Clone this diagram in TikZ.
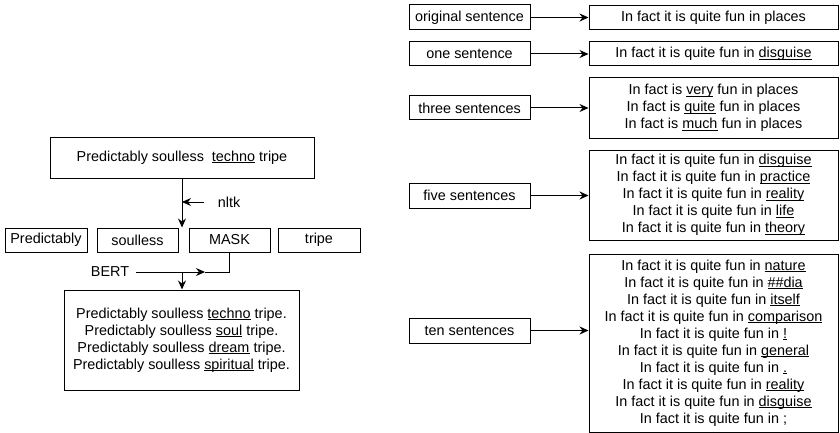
\documentclass[tikz,border=0pt]{standalone}
\usepackage{fontspec}
\setmainfont{Liberation Sans}
\usetikzlibrary{arrows.meta,positioning}
\newcommand\ulw[1]{\underline{\smash{#1}}}

\begin{document}
\begin{tikzpicture}[x=1pt,y=-1pt,line width=1pt,
        link/.style={-{Stealth[length=9pt,width=8pt,inset=3pt]}}]%
        \useasboundingbox (0,0) rectangle (840,433);
        %\draw[step=20pt,color=gray,very thin] (0,0) grid (840,433);%%
        \begin{scope}
        \tikzstyle{every node}=[draw,inner sep=0pt,align=center,font=\fontsize{14.4}{17}\selectfont] %%
        % masking and filling one word
        \node (sent) at (182,157.5) [minimum width=264pt,minimum height=41pt] {Predictably soulless\ \ \ulw{techno} tripe}; %%
        \node (w1) at (46,240) [minimum width=82pt,minimum height=24pt] {Predictably}; %%
        \node (w2) at (137.5,240) [minimum width=81pt,minimum height=24pt] {soulless}; %%
        \node (mask) at (229.5,240) [minimum width=81pt,minimum height=24pt] {MASK}; %%
        \node (w4) at (319,240) [minimum width=82pt,minimum height=24pt] {tripe}; %%
        \node (preds) at (181.5,340) [minimum width=235pt,minimum height=100pt] {Predictably soulless \ulw{techno} tripe.\\
                Predictably soulless \ulw{soul} tripe.\\
                Predictably soulless \ulw{dream} tripe.\\
                Predictably soulless \ulw{spiritual} tripe.}; %%
        \end{scope}
        \begin{scope}
        \tikzstyle{every node}=[draw,inner sep=0pt,minimum width=121pt,font=\fontsize{14.4}{17}\selectfont] %%
        % how many sentences are generated
        \node (lorig) at (469.5,17.5) [minimum height=25pt] {original sentence}; %%
        \node (lone) at (469.5,54) [minimum height=24pt] {one sentence}; %%
        \node (lthree) at (469.5,108) [minimum height=24pt] {three sentences}; %%
        \node (lfive) at (469.5,195.5) [minimum height=25pt] {five sentences}; %%
        \node (lten) at (469.5,330.5) [minimum height=25pt] {ten sentences}; %%
        \end{scope}
        \begin{scope}
        \tikzstyle{every node}=[draw,inner sep=0pt,align=center,minimum width=249pt,font=\fontsize{14.4}{17}\selectfont] %%
        \node (rorig) at (713.5,18) [minimum height=24pt] {In fact it is quite fun in places}; %%
        \node (rone) at (713.5,54) [minimum height=24pt] {In fact it is quite fun in \ulw{disguise}}; %%
        \node (rthree) at (713.5,108) [minimum height=60pt] {In fact is \ulw{very} fun in places\\
                In fact is \ulw{quite} fun in places\\
                In fact is \ulw{much} fun in places}; %%
        \node (rfive) at (713.5,195) [minimum height=90pt] {In fact it is quite fun in \ulw{disguise}\\
                In fact it is quite fun in \ulw{practice}\\
                In fact it is quite fun in \ulw{reality}\\
                In fact it is quite fun in \ulw{life}\\
                In fact it is quite fun in \ulw{theory}}; %%
        \node (rten) at (713.5,343) [minimum height=178pt] {In fact it is quite fun in \ulw{nature}\\
                In fact it is quite fun in \ulw{\#\#dia}\\
                In fact it is quite fun in \ulw{itself}\\
                In fact it is quite fun in \ulw{comparison}\\
                In fact it is quite fun in \ulw{!}\\
                In fact it is quite fun in \ulw{general}\\
                In fact it is quite fun in \ulw{.}\\
                In fact it is quite fun in \ulw{reality}\\
                In fact it is quite fun in \ulw{disguise}\\
                In fact it is quite fun in ;}; %%
        \end{scope}
        \begin{scope}
        \tikzstyle{every node}=[inner sep=0pt,font=\fontsize{14.4}{17}\selectfont] %%
        \node (nltk) at (229,202) {nltk}; %%
        \node (bert) at (110,272) {BERT}; %%
        \end{scope}
        \coordinate (cut) at (182,202); %%
        \coordinate (join) at (205,272); %%
        \coordinate (fork) at (182,272); %%
        \draw[link] (sent.south) -- (sent.south |- mask.north); %%
        \draw[link] ([xshift=-13pt]nltk.west) -- (cut); %%
        \draw (mask.south) |- (join); %%
        \draw[link] ([xshift=6pt]bert.east) -- (join); %%
        \draw[link] (fork) -- (fork |- preds.north); %%
        \draw[link] (lorig.east) -- (lorig.east -| rorig.west); %%
        \draw[link] (lone.east) -- (lone.east -| rone.west); %%
        \draw[link] (lthree.east) -- (lthree.east -| rthree.west); %%
        \draw[link] (lfive.east) -- (lfive.east -| rfive.west); %%
        \draw[link] (lten.east) -- (lten.east -| rten.west); %%
\end{tikzpicture}
\end{document}
